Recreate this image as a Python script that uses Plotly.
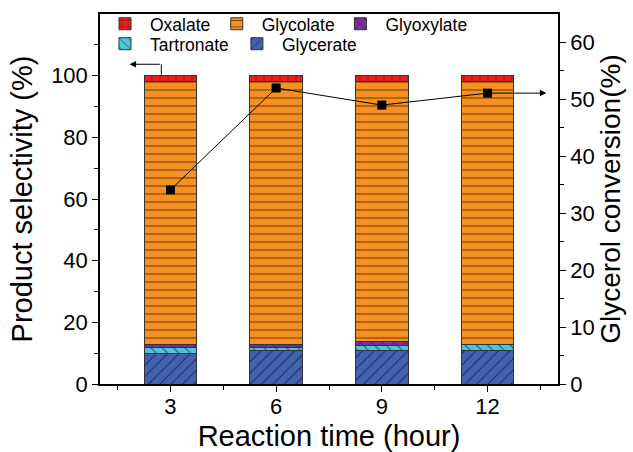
import plotly.graph_objects as go

# ---- data ----
times = [3, 6, 9, 12]
glycerate = [10.0, 10.8, 10.8, 10.8]
tartronate = [1.8, 1.0, 1.7, 2.0]
glyoxylate = [1.1, 1.0, 1.2, 0.0]
glycolate = [85.1, 85.2, 84.3, 85.2]
oxalate = [2.0, 2.0, 2.0, 2.0]
conversion = [34.1, 52.0, 49.0, 51.1]

x_ticks = [3, 6, 9, 12]
y_left_ticks = [0, 20, 40, 60, 80, 100]
y_right_ticks = [0, 10, 20, 30, 40, 50, 60]

FONT = "Liberation Sans, Arial, sans-serif"
EDGE = "#333333"

# name, values, colour, pattern, pattern colour, legend id, legend x, legend y
series = [
    ("Glycerate", glycerate, "#4262B1", "/", "#1a2a55", "legend5", 0.288, 0.968),
    ("Tartronate", tartronate, "#4CC7DA", "\\", "#1d4e58", "legend4", 0.0, 0.968),
    ("Glyoxylate", glyoxylate, "#7E2F9C", "x", "#2a0d36", "legend3", 0.514, 1.022),
    ("Glycolate", glycolate, "#F7901E", "-", "#5a3510", "legend2", 0.244, 1.022),
    ("Oxalate", oxalate, "#E8211F", "+", "#5a0a0a", "legend", 0.0, 1.022),
]

fig = go.Figure()
legend_layout = {}
for name, vals, col, shape, fg, leg, lx, ly in series:
    fig.add_trace(go.Bar(
        x=times, y=vals, name=name, width=1.5, legend=leg,
        marker=dict(color=col, line=dict(color=EDGE, width=1),
                    pattern=dict(shape=shape, fgcolor=fg, bgcolor=col,
                                 size=8, solidity=0.12, fillmode="replace")),
    ))
    legend_layout[leg] = dict(x=lx, y=ly, xanchor="left", yanchor="top",
                              bgcolor="rgba(0,0,0,0)", borderwidth=0,
                              font=dict(size=17.5, family=FONT), itemwidth=40)

fig.add_trace(go.Scatter(
    x=times, y=conversion, yaxis="y2", mode="lines+markers", showlegend=False,
    line=dict(color="black", width=1),
    marker=dict(symbol="square", size=9, color="black"),
))

# arrows indicating axes
left_arrow_x0 = 2.74
left_arrow_x1 = 1.84
left_arrow_y = 103.7
fig.add_shape(type="line", xref="x", yref="y", x0=left_arrow_x0, x1=left_arrow_x0,
              y0=100.3, y1=left_arrow_y, line=dict(color="black", width=1))
fig.add_annotation(xref="x", yref="y", axref="x", ayref="y",
                   x=left_arrow_x1, y=left_arrow_y, ax=left_arrow_x0, ay=left_arrow_y,
                   text="", showarrow=True, arrowhead=2, arrowsize=1.3, arrowwidth=1,
                   arrowcolor="black")
fig.add_annotation(xref="x", yref="y2", axref="x", ayref="y2",
                   x=13.67, y=conversion[-1], ax=times[-1], ay=conversion[-1],
                   text="", showarrow=True, arrowhead=2, arrowsize=1.3, arrowwidth=1,
                   arrowcolor="black")

fig.update_layout(
    width=633, height=452,
    margin=dict(l=100, r=75, t=14, b=68, autoexpand=False),
    paper_bgcolor="white", plot_bgcolor="white",
    barmode="stack",
    font=dict(family=FONT, color="black"),
    xaxis=dict(range=[1, 14], tickmode="array", tickvals=x_ticks, automargin=False,
               ticks="outside", ticklen=6, tickwidth=1.2, tickcolor="black",
               showline=True, linecolor="black", linewidth=1.5, mirror=True,
               showgrid=False, zeroline=False, ticklabelstandoff=-4,
               tickfont=dict(size=22, family=FONT),
               minor=dict(tickmode="array", tickvals=[1.5, 4.5, 7.5, 10.5, 13.5],
                          ticks="outside", ticklen=4, tickcolor="black"),
               title=dict(text="Reaction time (hour)", font=dict(size=29, family=FONT), standoff=9)),
    yaxis=dict(range=[0, 120], tickmode="array", tickvals=y_left_ticks, automargin=False,
               ticks="outside", ticklen=6, tickwidth=1.2, tickcolor="black",
               showline=True, linecolor="black", linewidth=1.5,
               showgrid=False, zeroline=False,
               tickfont=dict(size=22, family=FONT),
               minor=dict(tickmode="array", tickvals=[10, 30, 50, 70, 90, 110],
                          ticks="outside", ticklen=4, tickcolor="black"),
               title=dict(text="Product selectivity (%)", font=dict(size=29, family=FONT), standoff=10)),
    yaxis2=dict(range=[0, 65], overlaying="y", side="right", tickmode="array",
                tickvals=y_right_ticks, automargin=False,
                ticks="outside", ticklen=6, tickwidth=1.2, tickcolor="black",
                showline=True, linecolor="black", linewidth=1.5,
                showgrid=False, zeroline=False,
                tickfont=dict(size=22, family=FONT),
                minor=dict(tickmode="array", tickvals=[5, 15, 25, 35, 45, 55],
                           ticks="outside", ticklen=4, tickcolor="black"),
                title=dict(text="Glycerol conversion(%)", font=dict(size=28, family=FONT), standoff=3)),
    **legend_layout,
)

fig.write_html("out.html", config={"displayModeBar": False},
               post_script="document.body.style.margin='0px';")
